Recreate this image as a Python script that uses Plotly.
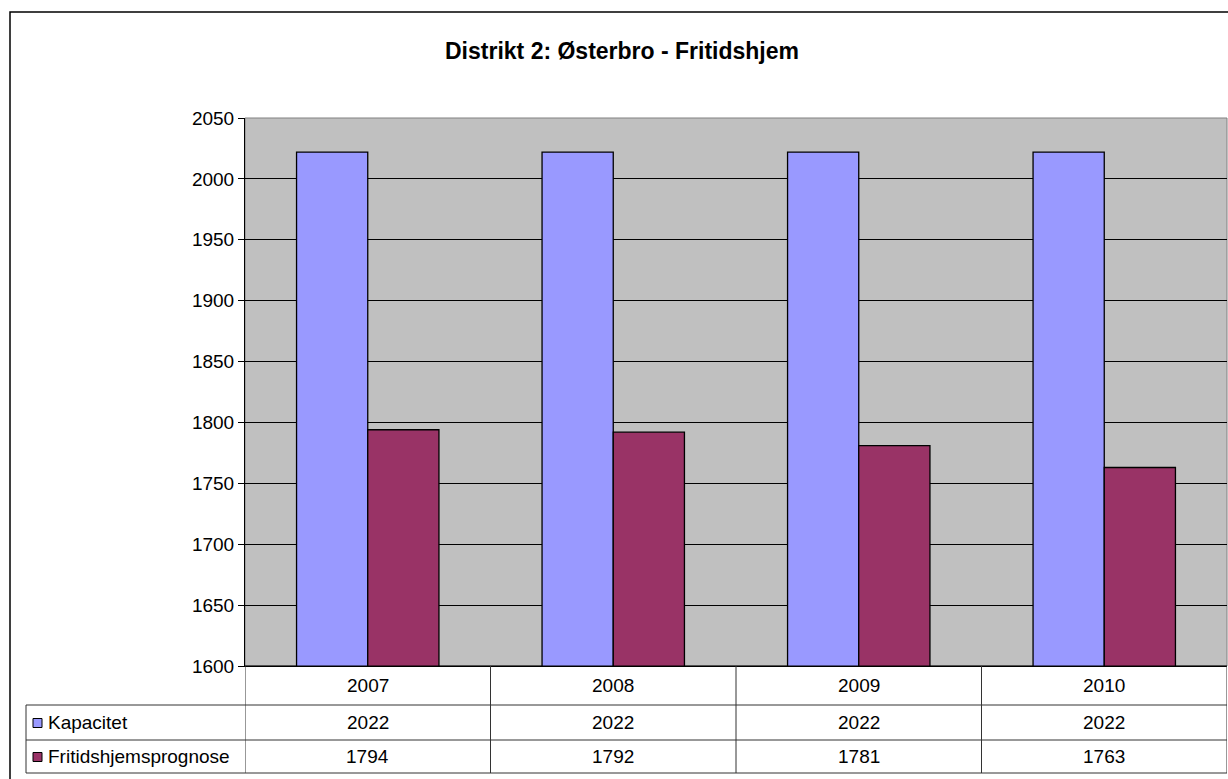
import plotly.graph_objects as go

# data
years = ["2007", "2008", "2009", "2010"]
kapacitet = [2022, 2022, 2022, 2022]
prognose = [1794, 1792, 1781, 1763]
series_names = ["Kapacitet", "Fritidshjemsprognose"]
title_text = "Distrikt 2: Østerbro - Fritidshjem"

W, H = 1228, 779
FONT = "Liberation Sans, Arial, sans-serif"
COL_KAP = "#9999FF"
COL_PRO = "#993366"


def px(x):
    return x / W


def py(y):
    return 1 - y / H


# plot area in pixels
PL, PR, PT, PB = 245, 1227, 118, 666
ROW_Y = [666, 705, 740, 773]

fig = go.Figure()
fig.add_trace(go.Bar(
    x=years, y=kapacitet, name=series_names[0],
    marker=dict(color=COL_KAP, line=dict(color="black", width=1.3)),
))
fig.add_trace(go.Bar(
    x=years, y=prognose, name=series_names[1],
    marker=dict(color=COL_PRO, line=dict(color="black", width=1.3)),
))

shapes = []
annotations = []

# outer chart border
shapes.append(dict(type="rect", xref="paper", yref="paper",
                   x0=px(10), x1=px(1240), y0=py(790), y1=py(12),
                   line=dict(color="black", width=1.5)))

# plot area border (grey)
shapes.append(dict(type="rect", xref="paper", yref="paper",
                   x0=px(PL), x1=px(PR), y0=py(PB), y1=py(PT),
                   line=dict(color="#808080", width=1), layer="below"))

# data table: horizontal lines
shapes.append(dict(type="line", xref="paper", yref="paper",
                   x0=px(PL), x1=px(PR), y0=py(ROW_Y[0]), y1=py(ROW_Y[0]),
                   line=dict(color="black", width=1)))
for ry in ROW_Y[1:]:
    shapes.append(dict(type="line", xref="paper", yref="paper",
                       x0=px(26), x1=px(PR), y0=py(ry), y1=py(ry),
                       line=dict(color="#333333", width=1)))
# vertical lines
shapes.append(dict(type="line", xref="paper", yref="paper",
                   x0=px(26), x1=px(26), y0=py(ROW_Y[1]), y1=py(ROW_Y[3]),
                   line=dict(color="#333333", width=1)))
for i in range(len(years) + 1):
    shapes.append(dict(type="line", xref="x", yref="paper",
                       x0=i - 0.5, x1=i - 0.5, y0=py(ROW_Y[0]), y1=py(ROW_Y[3]),
                       line=dict(color="#333333", width=1)))

# table text (x given as category index so "2007" is not read as an index)
row_mid = [(ROW_Y[k] + ROW_Y[k + 1]) / 2 for k in range(3)]
cell = dict(xref="x", yref="paper", showarrow=False,
            xanchor="center", yanchor="middle")
for i, yr in enumerate(years):
    annotations.append(dict(cell, x=i, y=py(row_mid[0]), text=yr))
    annotations.append(dict(cell, x=i, y=py(row_mid[1]), text=str(kapacitet[i])))
    annotations.append(dict(cell, x=i, y=py(row_mid[2]), text=str(prognose[i])))

# legend keys inside the table
for k, (name, col) in enumerate(zip(series_names, [COL_KAP, COL_PRO])):
    cy = row_mid[k + 1]
    shapes.append(dict(type="rect", xref="paper", yref="paper",
                       x0=px(33), x1=px(42), y0=py(cy + 5), y1=py(cy - 4),
                       fillcolor=col, line=dict(color="black", width=1)))
    annotations.append(dict(x=px(46), y=py(cy), xref="paper", yref="paper",
                            text=name, showarrow=False,
                            xanchor="left", yanchor="middle"))

# title
annotations.append(dict(x=px(622), y=py(51), xref="paper", yref="paper",
                        text="<b>" + title_text + "</b>", showarrow=False,
                        xanchor="center", yanchor="middle",
                        font=dict(size=23, color="black")))

fig.update_layout(
    width=W, height=H, autosize=False,
    margin=dict(l=0, r=0, t=0, b=0, pad=0),
    paper_bgcolor="white", plot_bgcolor="#C0C0C0",
    font=dict(family=FONT, size=19, color="black"),
    barmode="group", bargap=0.42, bargroupgap=0,
    showlegend=False,
    shapes=shapes, annotations=annotations,
    xaxis=dict(domain=[px(PL), px(PR)], showticklabels=False, ticks="",
               showgrid=False, showline=True, linecolor="black", linewidth=1,
               range=[-0.5, 3.5], automargin=False),
    yaxis=dict(domain=[py(PB), py(PT)], range=[1600, 2050], dtick=50,
               showgrid=True, gridcolor="black", gridwidth=1,
               showline=True, linecolor="black", linewidth=1,
               ticks="outside", ticklen=6, tickcolor="black",
               tickfont=dict(size=19), zeroline=False, automargin=False),
)

fig.write_html("out.html", config={"displayModeBar": False},
               post_script="document.body.style.margin='0px';")
